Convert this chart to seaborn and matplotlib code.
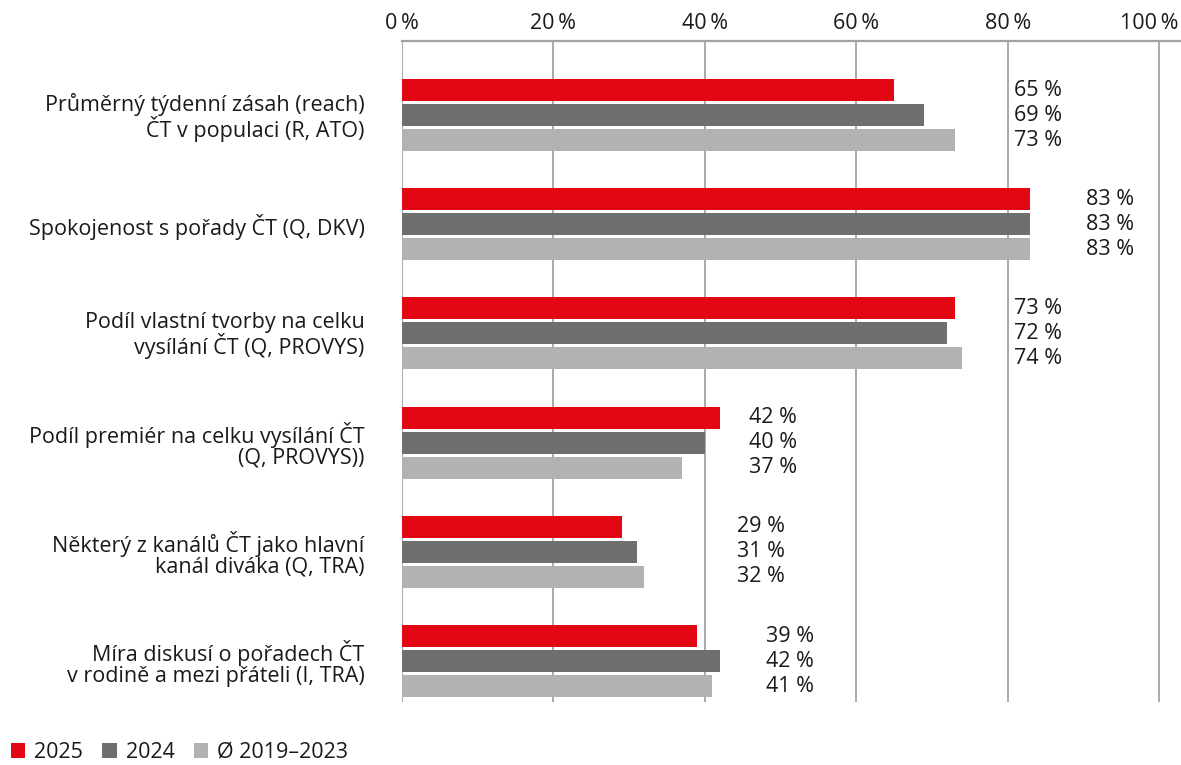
import numpy as np
import pandas as pd
import matplotlib
matplotlib.use("Agg")
import matplotlib.pyplot as plt
import matplotlib.transforms as mtransforms
import seaborn as sns
from matplotlib.patches import Patch

# data
categories = [
    "Průměrný týdenní zásah (reach)\nČT v populaci (R, ATO)",
    "Spokojenost s pořady ČT (Q, DKV)",
    "Podíl vlastní tvorby na celku\nvysílání ČT (Q, PROVYS)",
    "Podíl premiér na celku vysílání ČT\n(Q, PROVYS))",
    "Některý z kanálů ČT jako hlavní\nkanál diváka (Q, TRA)",
    "Míra diskusí o pořadech ČT\nv rodině a mezi přáteli (I, TRA)",
]
series = ["2025", "2024", "Ø 2019–2023"]
values_2025 = [65, 83, 73, 42, 29, 39]
values_2024 = [69, 83, 72, 40, 31, 42]
values_avg = [73, 83, 74, 37, 32, 41]
x_ticks = [0, 20, 40, 60, 80, 100]

# where the value labels start (in % of x axis), per group
label_x = [80.8, 90.4, 80.8, 45.8, 44.3, 48.1]

colors = ["#E30613", "#706F6F", "#B2B2B2"]

df = pd.DataFrame({"kategorie": categories,
                   series[0]: values_2025,
                   series[1]: values_2024,
                   series[2]: values_avg})
df = df.melt(id_vars="kategorie", var_name="rok", value_name="hodnota")

sns.set_theme(style="white")
plt.rcParams['font.family'] = ['Open Sans', 'DejaVu Sans']
fs = 15.5
txt = "#1a1a1a"

W, H = 1181, 765
fig = plt.figure(figsize=(W / 100, H / 100), dpi=100)
ax = fig.add_axes([402 / W, 1 - 702 / H, 1 - 402 / W, (702 - 41) / H])

sns.barplot(data=df, y="kategorie", x="hodnota", hue="rok", orient="h",
            palette=colors, hue_order=series, order=categories,
            width=0.687, gap=0.12, saturation=1, legend=False,
            linewidth=0, ax=ax)

ax.set_xlim(0, 102.9)
ax.set_ylim(5.375, -0.678)
ax.set_xlabel("")
ax.set_ylabel("")

# grid + top axis
ax.set_xticks(x_ticks)
ax.set_xticklabels([f"{t}\u2009%" for t in x_ticks], fontsize=fs, color=txt)
ax.xaxis.tick_top()
ax.tick_params(axis="x", length=0, pad=5)
ax.xaxis.grid(True, color="#A3A3A3", linewidth=1.3)
ax.set_axisbelow(True)
for s in ["left", "right", "bottom"]:
    ax.spines[s].set_visible(False)
ax.spines["top"].set_color("#A3A3A3")
ax.spines["top"].set_linewidth(1.6)

# last tick label pulled a bit left so it fits
last = ax.get_xticklabels()[-1]
last.set_transform(last.get_transform() + mtransforms.ScaledTranslation(-10 / 100, 0, fig.dpi_scale_trans))

ax.set_yticks(range(len(categories)))
ax.set_yticklabels(categories, fontsize=fs, color=txt, linespacing=1.0)
ax.tick_params(axis="y", length=0, pad=27)

# value labels
step = 0.687 / 3
for i in range(len(categories)):
    for j, vals in enumerate([values_2025, values_2024, values_avg]):
        ax.text(label_x[i], i + (j - 1) * step, f"{vals[i]} %", ha="left", va="center",
                fontsize=fs, color=txt)

handles = [Patch(facecolor=c, edgecolor="none", label=s) for c, s in zip(colors, series)]
fig.legend(handles=handles, loc="lower left", bbox_to_anchor=(0.0, -0.011), ncol=3,
           frameon=False, fontsize=fs, handlelength=0.68, handleheight=0.68,
           borderpad=0.2, borderaxespad=0.3,
           handletextpad=0.4, columnspacing=0.9, labelcolor=txt)

fig.savefig("out.png", dpi=100)
